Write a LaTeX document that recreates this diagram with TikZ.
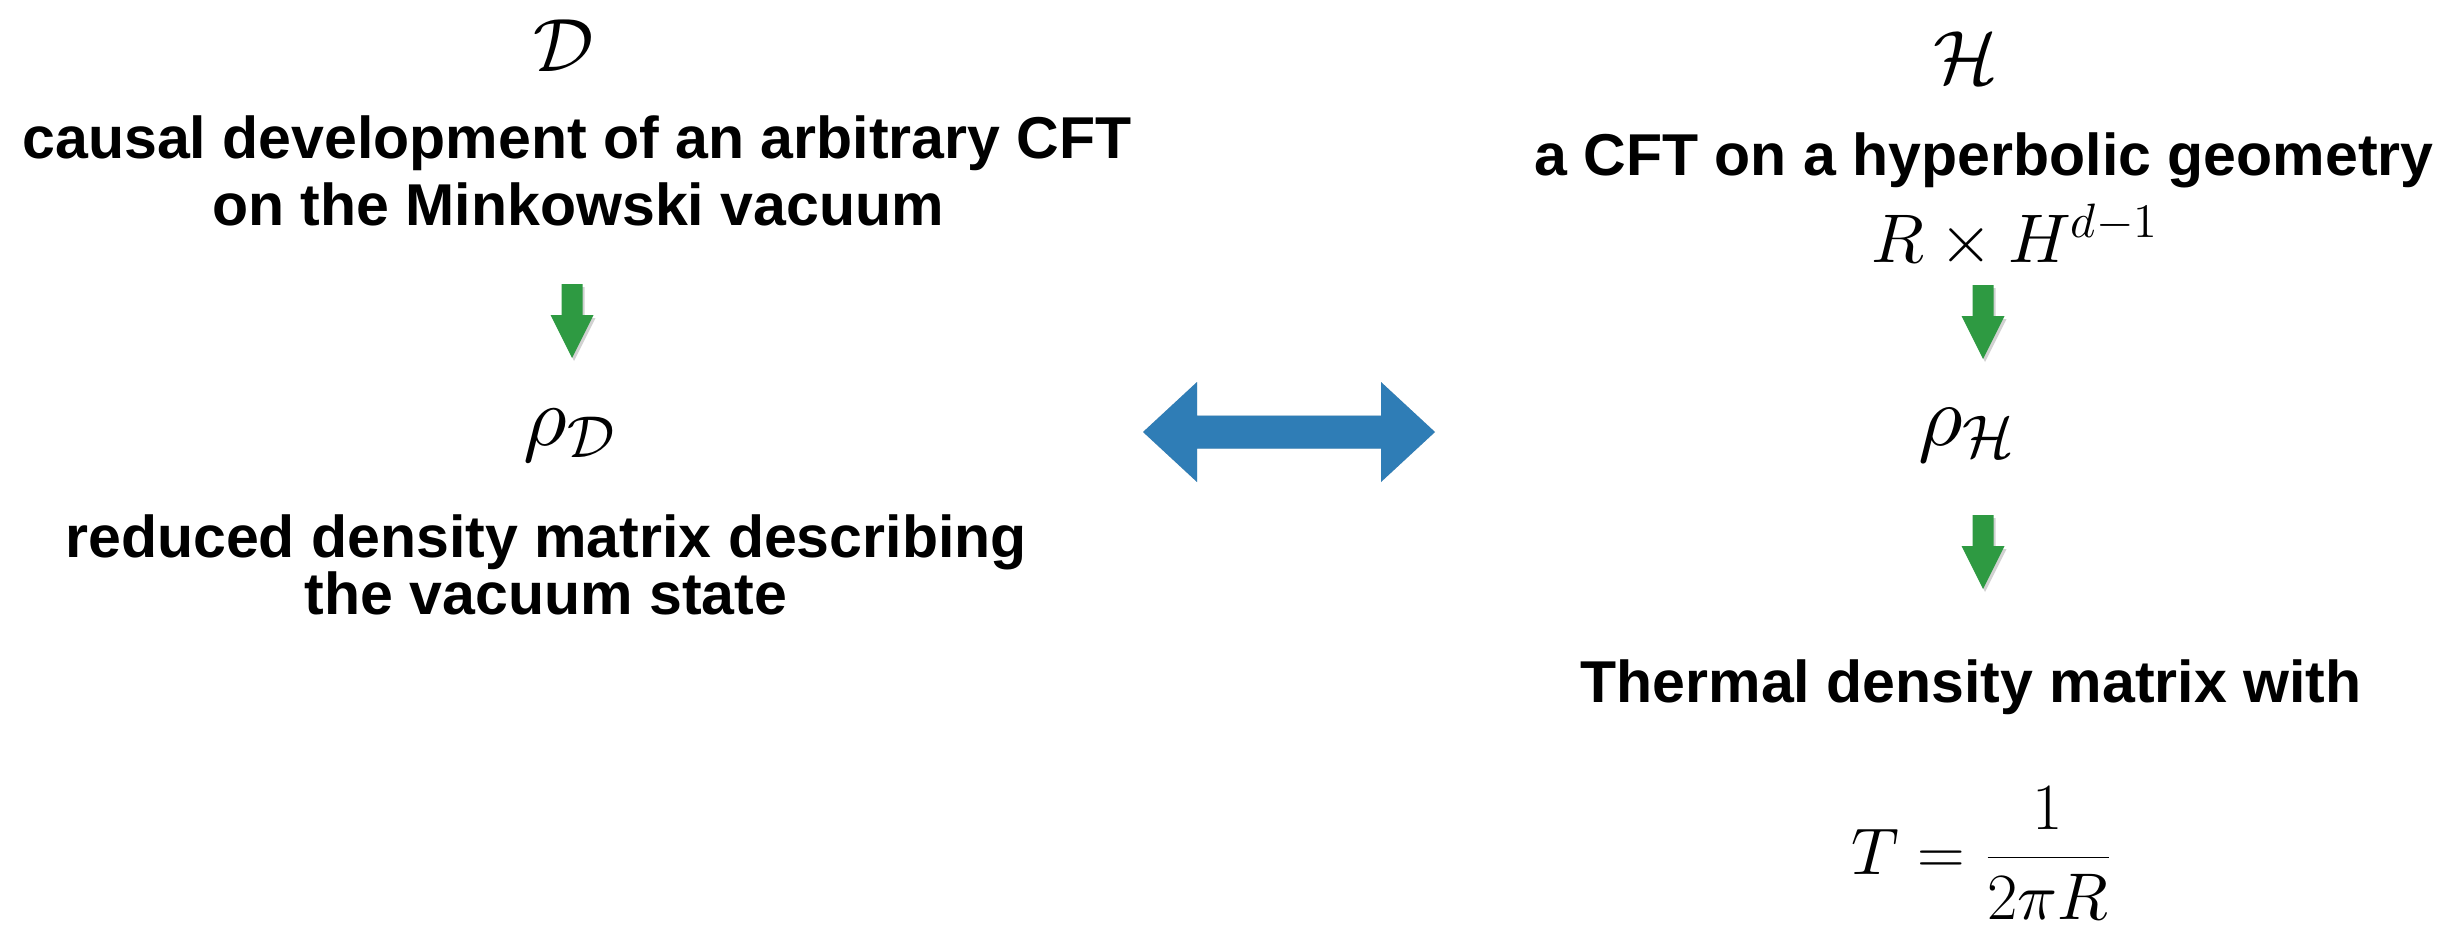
\RequirePackage{fix-cm}
\documentclass[tikz,border=0pt]{standalone}
\usepackage{fontspec}
\newfontfamily\hv{Liberation Sans}
\DeclareFontShape{OMS}{cmsy}{m}{n}{<-> cmsy10}{}
\DeclareFontShape{OML}{cmm}{m}{it}{<-> cmmi10}{}
\definecolor{arrgreen}{RGB}{46,154,66}
\definecolor{arrblue}{RGB}{47,125,182}
\begin{document}
\begin{tikzpicture}[x=0.1mm,y=-0.1mm,
  lbl/.style={inner sep=0,anchor=base,font=\hv\bfseries\fontsize{16.8}{20}\selectfont},
  mth/.style={inner sep=0,anchor=base},
  shadowfill/.style={fill=black,opacity=0.18},
  garrow/.pic={
    \fill[shadowfill] (-8.5,3) -- (12.5,3) -- (12.5,34) -- (23.5,34) -- (2,77) -- (-19.5,34) -- (-8.5,34) -- cycle;
    \fill[arrgreen] (-10.5,0) -- (10.5,0) -- (10.5,31) -- (21.5,31) -- (0,74) -- (-21.5,31) -- (-10.5,31) -- cycle;
  }]
\useasboundingbox (0,0) rectangle (2460,925);

% left column
\node[mth,font=\fontsize{21.5}{26}\selectfont] (D) at (564,71) {$\mathcal{D}$};
\node[lbl] (c1) at (577,158) {causal development of an arbitrary CFT};
\node[lbl] (c2) at (578,225) {on the Minkowski vacuum};
\coordinate (ga) at (572,284);
\pic at (ga) {garrow};
\node[mth,font=\fontsize{24}{28}\selectfont] (rD) at (570,445) {$\rho_{\mathcal{D}}$};
\node[lbl] (r1) at (546,557) {reduced density matrix describing};
\node[lbl] (r2) at (546,614) {the vacuum state};

% right column
\node[mth,font=\fontsize{21.5}{26}\selectfont] (H) at (1966,83) {$\mathcal{H}$};
\node[lbl] (h1) at (1984,175) {a CFT on a hyperbolic geometry};
\node[mth,font=\fontsize{19.6}{24}\selectfont] (RH) at (2015,262) {$R\times H^{d-1}$};
\coordinate (gb) at (1983,285);
\pic at (gb) {garrow};
\node[mth,font=\fontsize{24.5}{28}\selectfont] (rH) at (1967,445) {$\rho_{\mathcal{H}}$};
\coordinate (gc) at (1983,515);
\pic at (gc) {garrow};
\node[lbl] (t1) at (1971,702) {Thermal density matrix with};
\node[mth,font=\fontsize{18.8}{22}\selectfont] (T) at (1982,874) {$\displaystyle T=\frac{1}{2\pi R}$};

% blue double arrow
\coordinate (bl) at (1143,432);
\coordinate (br) at (1435,432);
\fill[shadowfill,shift={(3,4)}] (bl) -- ++(54,-50) -- ++(0,33.5) -- ++(184,0) -- ++(0,-33.5) -- (br) -- ++(-54,50) -- ++(0,-33.5) -- ++(-184,0) -- ++(0,33.5) -- cycle;
\fill[arrblue] (bl) -- ++(54,-50) -- ++(0,33.5) -- ++(184,0) -- ++(0,-33.5) -- (br) -- ++(-54,50) -- ++(0,-33.5) -- ++(-184,0) -- ++(0,33.5) -- cycle;
\end{tikzpicture}
\end{document}
